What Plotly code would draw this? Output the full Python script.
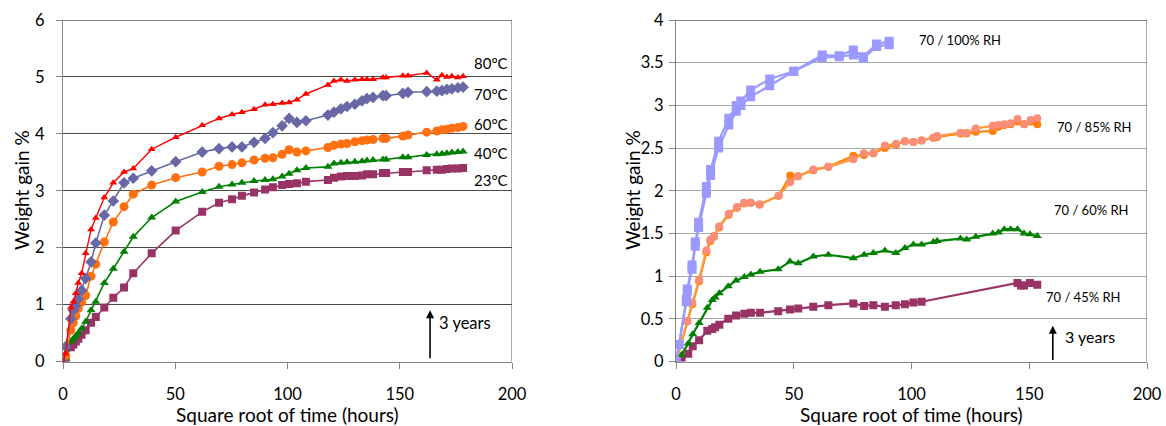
import plotly.graph_objects as go

# ---------------- Left chart data (temperature series) ----------------
x_left = [0, 1.2, 3.5, 4.6, 5.7, 6.8, 8.3, 10.1, 12.5, 14.6,
          18.4, 22.4, 27.2, 31.3, 39.5, 50.2, 62.0, 69.5, 75.3, 79.7,
          85.1, 90.0, 93.5, 97.6, 100.7, 104.2, 108.2, 118.0, 120.7, 123.8,
          126.5, 130.0, 133.2, 135.4, 138.1, 142.5, 143.9, 151.4, 153.7, 162.0,
          166.5, 168.8, 171.0, 173.2, 175.9, 178.2]
t80 = [0, 0.14, 0.95, 1.05, 1.20, 1.38, 1.55, 1.90, 2.32, 2.52,
       2.88, 3.14, 3.33, 3.39, 3.73, 3.94, 4.15, 4.27, 4.34, 4.38,
       4.43, 4.51, 4.52, 4.54, 4.55, 4.60, 4.70, 4.86, 4.93, 4.95,
       4.93, 4.95, 4.96, 4.96, 4.96, 4.99, 4.99, 5.02, 5.02, 5.07,
       4.95, 5.03, 5.00, 5.01, 4.99, 5.01]
t70 = [0, 0.26, 0.75, 0.90, 0.98, 1.10, 1.25, 1.46, 1.75, 2.08,
       2.57, 2.82, 3.14, 3.22, 3.35, 3.51, 3.68, 3.74, 3.77, 3.77,
       3.85, 3.92, 4.02, 4.14, 4.27, 4.20, 4.23, 4.33, 4.38, 4.44,
       4.48, 4.52, 4.58, 4.62, 4.64, 4.67, 4.67, 4.71, 4.73, 4.74,
       4.75, 4.76, 4.78, 4.79, 4.81, 4.82]
t60 = [0, 0.10, 0.55, 0.68, 0.80, 0.93, 1.04, 1.16, 1.50, 1.71,
       2.10, 2.45, 2.72, 2.94, 3.10, 3.23, 3.33, 3.43, 3.46, 3.49,
       3.54, 3.57, 3.58, 3.64, 3.72, 3.68, 3.70, 3.76, 3.80, 3.82,
       3.83, 3.86, 3.88, 3.89, 3.90, 3.92, 3.92, 3.96, 3.98, 4.03,
       4.05, 4.07, 4.08, 4.10, 4.11, 4.13]
t40 = [0, 0.05, 0.35, 0.40, 0.45, 0.50, 0.58, 0.70, 0.90, 1.05,
       1.38, 1.63, 1.93, 2.19, 2.53, 2.81, 2.98, 3.07, 3.11, 3.14,
       3.17, 3.19, 3.20, 3.25, 3.30, 3.36, 3.40, 3.42, 3.48, 3.49,
       3.50, 3.51, 3.52, 3.53, 3.54, 3.55, 3.55, 3.59, 3.59, 3.63,
       3.64, 3.65, 3.66, 3.67, 3.68, 3.69]
t23 = [0, 0.05, 0.25, 0.30, 0.35, 0.40, 0.47, 0.55, 0.68, 0.78,
       0.95, 1.12, 1.30, 1.55, 1.90, 2.30, 2.63, 2.79, 2.85, 2.91,
       2.97, 3.02, 3.06, 3.10, 3.12, 3.13, 3.16, 3.19, 3.23, 3.25,
       3.26, 3.26, 3.27, 3.29, 3.29, 3.31, 3.31, 3.33, 3.33, 3.36,
       3.37, 3.37, 3.38, 3.39, 3.39, 3.40]
left_labels = ["80°C", "70°C", "60°C", "40°C", "23°C"]
left_label_y = [5.25, 4.70, 4.18, 3.67, 3.19]

# ---------------- Right chart data (70 °C, humidity series) ----------------
x_rh100 = [0, 1.3, 4.4, 4.8, 6.8, 8.2, 9.6, 12.9, 14.7, 18.1, 22.4,
           25.6, 27.5, 31.7, 39.8, 50.0, 62.1, 69.3, 75.3, 79.5, 85.2, 90.5]
rh100_a = [0, 0.20, 0.73, 0.85, 1.13, 1.40, 1.63, 2.05, 2.25, 2.58, 2.85,
           3.00, 3.05, 3.18, 3.31, 3.40, 3.59, 3.58, 3.65, 3.57, 3.72, 3.75]
rh100_b = [0, 0.20, 0.70, 0.82, 1.08, 1.35, 1.57, 1.97, 2.18, 2.50, 2.77,
           2.93, 3.00, 3.10, 3.23, 3.40, 3.56, 3.57, 3.59, 3.55, 3.69, 3.71]

x_rh85 = [0, 4.8, 6.9, 9.8, 12.9, 14.6, 16.1, 18.3, 22.4, 25.9,
          28.9, 31.7, 35.5, 43.6, 48.5, 51.8, 58.3, 64.7, 75.3, 79.8,
          83.8, 88.7, 93.4, 97.2, 100.8, 104.3, 109.3, 110.9, 120.8, 123.4,
          127.3, 134.5, 136.9, 139.4, 142.1, 145.0, 147.8, 150.6, 153.4]
rh85_a = [0, 0.47, 0.67, 0.94, 1.28, 1.41, 1.46, 1.57, 1.72, 1.80,
          1.85, 1.86, 1.84, 1.94, 2.18, 2.17, 2.24, 2.28, 2.41, 2.42,
          2.44, 2.50, 2.54, 2.58, 2.57, 2.59, 2.62, 2.63, 2.67, 2.67,
          2.69, 2.70, 2.75, 2.77, 2.78, 2.81, 2.78, 2.81, 2.78]
rh85_b = [0, 0.47, 0.69, 0.96, 1.30, 1.43, 1.47, 1.58, 1.73, 1.81,
          1.86, 1.86, 1.84, 1.94, 2.10, 2.17, 2.25, 2.28, 2.37, 2.44,
          2.44, 2.53, 2.55, 2.58, 2.57, 2.59, 2.62, 2.64, 2.68, 2.68,
          2.73, 2.76, 2.77, 2.78, 2.79, 2.84, 2.78, 2.83, 2.85]

x_rh60 = [0, 2.4, 5.2, 7.1, 9.8, 13.3, 15.4, 16.6, 18.4, 22.2,
          25.5, 29.0, 31.8, 35.7, 43.4, 48.4, 51.9, 58.3, 64.7, 75.3,
          79.9, 83.8, 88.7, 93.3, 97.2, 100.8, 104.3, 109.3, 110.9, 120.8,
          123.4, 127.3, 134.5, 136.9, 139.4, 142.1, 145.0, 147.8, 150.3, 153.4]
rh60 = [0, 0.08, 0.21, 0.32, 0.45, 0.63, 0.72, 0.75, 0.80, 0.88,
        0.95, 0.99, 1.02, 1.05, 1.08, 1.17, 1.15, 1.23, 1.25, 1.21,
        1.25, 1.27, 1.30, 1.27, 1.33, 1.37, 1.37, 1.40, 1.41, 1.44,
        1.43, 1.46, 1.50, 1.51, 1.55, 1.55, 1.55, 1.50, 1.49, 1.47]

x_rh45 = [0, 2.4, 5.2, 7.1, 9.8, 13.3, 15.4, 16.6, 18.4, 22.2,
          25.5, 29.0, 31.8, 35.7, 43.4, 48.4, 51.9, 58.3, 64.7, 75.3,
          79.9, 83.8, 88.7, 93.3, 97.2, 100.8, 104.3, 145.0, 146.5, 147.8,
          150.3, 153.4]
rh45 = [0, 0.03, 0.09, 0.18, 0.25, 0.36, 0.38, 0.40, 0.43, 0.50,
        0.54, 0.56, 0.57, 0.57, 0.59, 0.61, 0.62, 0.64, 0.66, 0.68,
        0.65, 0.66, 0.64, 0.66, 0.67, 0.69, 0.70, 0.92, 0.89, 0.89,
        0.92, 0.90]
right_labels = ["70 / 100% RH", "70 / 85% RH", "70 / 60% RH", "70 / 45% RH"]
right_label_x = [102.3, 161.0, 159.7, 156.3]
right_label_y = [3.76, 2.75, 1.78, 0.76]

FONT = "Lato, 'Open Sans', sans-serif"
W, H = 1166, 426

fig = go.Figure()


def add(x, y, color, symbol, size, xa, ya, lw=1.3, mcolor=None):
    fig.add_trace(go.Scatter(
        x=x, y=y, mode="lines+markers", xaxis=xa, yaxis=ya,
        line=dict(color=color, width=lw),
        marker=dict(color=mcolor or color, symbol=symbol, size=size,
                    line=dict(width=0)),
        showlegend=False, hoverinfo="skip"))


# left chart
add(x_left, t23, "#993366", "square", 8, "x", "y", lw=1.6)
add(x_left, t40, "#008000", "triangle-up", 8, "x", "y", lw=1.6)
add(x_left, t60, "#FF7010", "circle", 9, "x", "y", lw=1.6)
add(x_left, t70, "#6868A6", "diamond", 9, "x", "y", lw=1.6)
add(x_left, t80, "#FF0000", "triangle-up", 7, "x", "y", lw=1.4)

# right chart
add(x_rh45, rh45, "#993366", "square", 8, "x2", "y2", lw=2.2)
add(x_rh60, rh60, "#008000", "triangle-up", 8, "x2", "y2", lw=2.2)
add(x_rh85, rh85_a, "#FF8000", "circle", 8, "x2", "y2", lw=2.2)
add(x_rh85, rh85_b, "#FF9A3C", "circle", 8, "x2", "y2", lw=2.2, mcolor="#FA8C78")
add(x_rh100, rh100_a, "#9999FF", "square", 9, "x2", "y2", lw=2.2)
add(x_rh100, rh100_b, "#9999FF", "square", 9, "x2", "y2", lw=2.2)

tickfont = dict(family=FONT, size=16.5, color="#000000")
L_DOM = [63 / W, 512 / W]
R_DOM = [676 / W, 1147 / W]
Y_DOM = [1 - 361.5 / H, 1 - 20 / H]

common_x = dict(range=[0, 200], dtick=50, showgrid=False, zeroline=False,
                showline=True, linecolor="#868686", linewidth=1,
                ticks="outside", ticklen=6, tickcolor="#868686",
                tickfont=tickfont, ticklabelstandoff=12, automargin=False)
common_y = dict(showgrid=True, zeroline=False, showline=True,
                linecolor="#868686", linewidth=1, ticks="outside", ticklen=6,
                tickcolor="#868686", tickfont=tickfont, automargin=False)

fig.update_layout(
    width=W, height=H,
    margin=dict(l=0, r=0, t=0, b=0, pad=0, autoexpand=False),
    paper_bgcolor="white", plot_bgcolor="white",
    font=dict(family=FONT, color="#000000"),
    xaxis=dict(domain=L_DOM, anchor="y", **common_x),
    yaxis=dict(domain=Y_DOM, anchor="x", range=[0, 6], dtick=1,
               gridcolor="#4a4a4a", ticklabelstandoff=8, **common_y),
    xaxis2=dict(domain=R_DOM, anchor="y2", **common_x),
    yaxis2=dict(domain=Y_DOM, anchor="x2", range=[0, 4], dtick=0.5,
                gridcolor="#a6a6a6", ticklabelstandoff=2, **common_y),
)

# frame: top and right borders
for xa, ya, ytop in (("x", "y", 6), ("x2", "y2", 4)):
    fig.add_shape(type="line", xref=xa, yref=ya, x0=0, x1=200, y0=ytop, y1=ytop,
                  line=dict(color="#000000", width=1))
    fig.add_shape(type="line", xref=xa, yref=ya, x0=200, x1=200, y0=0, y1=ytop,
                  line=dict(color="#555555", width=1))

ann = []
for lab, yy in zip(left_labels, left_label_y):
    ann.append(dict(x=182.2, y=yy, xref="x", yref="y", text=lab, showarrow=False,
                    xanchor="left", yanchor="middle",
                    font=dict(family=FONT, size=15, color="#000")))
for lab, xx, yy in zip(right_labels, right_label_x, right_label_y):
    ann.append(dict(x=xx, y=yy, xref="x2", yref="y2", text=lab, showarrow=False,
                    xanchor="left", yanchor="middle",
                    font=dict(family=FONT, size=13, color="#000")))

# 3-year arrows
ann.append(dict(x=163.5, y=0.9, ax=163.5, ay=0.03, xref="x", yref="y",
                axref="x", ayref="y", text="", showarrow=True, arrowhead=2,
                arrowsize=1, arrowwidth=1.6, arrowcolor="#000"))
ann.append(dict(x=166.5, y=0.67, xref="x", yref="y", text="3 years", showarrow=False,
                xanchor="left", yanchor="middle",
                font=dict(family=FONT, size=16.5, color="#000")))
ann.append(dict(x=160, y=0.42, ax=160, ay=0.0, xref="x2", yref="y2",
                axref="x2", ayref="y2", text="", showarrow=True, arrowhead=2,
                arrowsize=1, arrowwidth=1.6, arrowcolor="#000"))
ann.append(dict(x=164.3, y=0.29, xref="x2", yref="y2", text="3 years", showarrow=False,
                xanchor="left", yanchor="middle",
                font=dict(family=FONT, size=16, color="#000")))

# axis titles
for cx in ((63 + 512) / 2 / W, (676 + 1147) / 2 / W):
    ann.append(dict(x=cx, y=1 - 414 / H, xref="paper", yref="paper",
                    text="Square root of time (hours)", showarrow=False,
                    xanchor="center", yanchor="middle",
                    font=dict(family=FONT, size=19, color="#000")))
for cx in (21 / W, 632 / W):
    ann.append(dict(x=cx, y=1 - 190 / H, xref="paper", yref="paper",
                    text="Weight gain %", showarrow=False, textangle=-90,
                    xanchor="center", yanchor="middle",
                    font=dict(family=FONT, size=19, color="#000")))

fig.update_layout(annotations=ann)
fig.write_html(
    "out.html",
    config={"displayModeBar": False},
    post_script="document.body.style.margin='0';document.body.style.overflow='hidden';",
)
